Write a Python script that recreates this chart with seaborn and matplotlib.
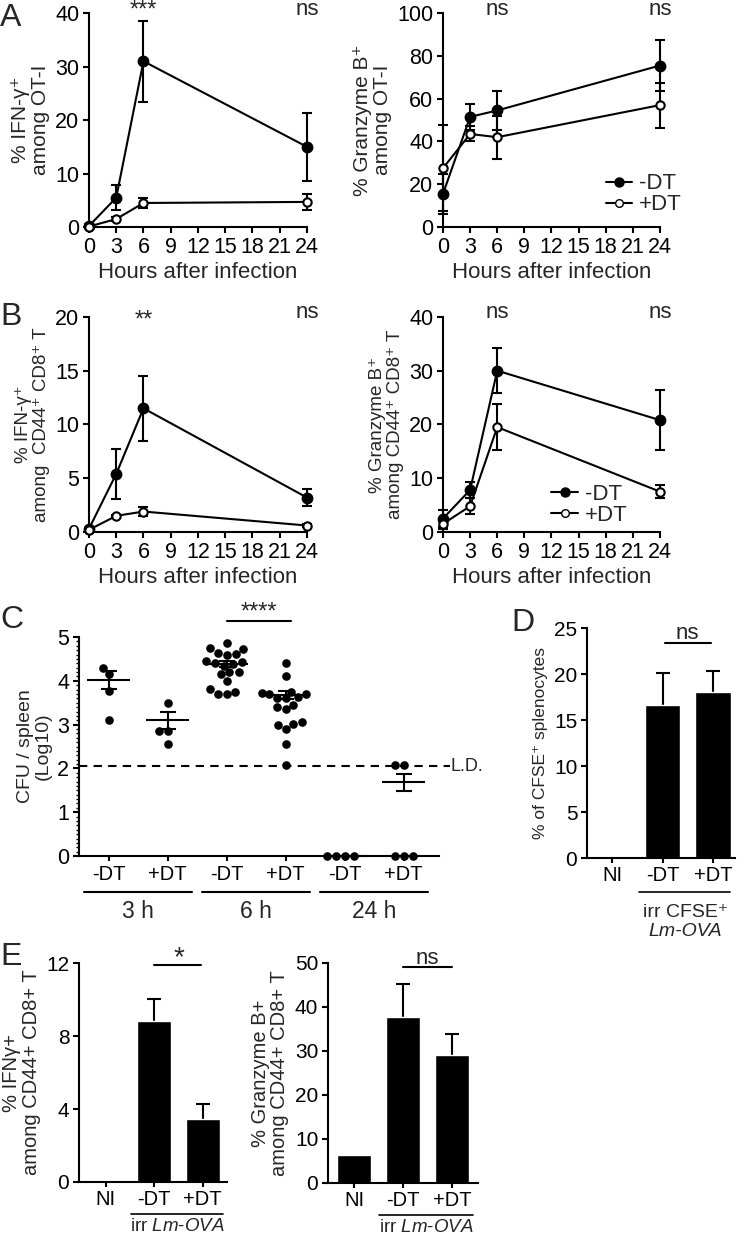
import numpy as np
import pandas as pd
import seaborn as sns
import matplotlib.pyplot as plt
from matplotlib.lines import Line2D
from matplotlib.ticker import MultipleLocator
from matplotlib.transforms import blended_transform_factory

sns.set_style("ticks")
plt.rcParams['font.family'] = ['Liberation Sans', 'DejaVu Sans']
plt.rcParams['mathtext.fontset'] = 'custom'
plt.rcParams['mathtext.rm'] = 'Liberation Sans'
plt.rcParams['mathtext.it'] = 'Liberation Sans:italic'
plt.rcParams['axes.linewidth'] = 1.5
plt.rcParams['xtick.major.width'] = 1.5
plt.rcParams['ytick.major.width'] = 1.5
plt.rcParams['xtick.major.size'] = 4.5
plt.rcParams['ytick.major.size'] = 4.5
plt.rcParams['xtick.major.pad'] = 2.5
plt.rcParams['ytick.major.pad'] = 2.5
plt.rcParams['xtick.labelsize'] = 15.5
plt.rcParams['ytick.labelsize'] = 15.5
plt.rcParams['axes.edgecolor'] = 'black'
plt.rcParams['xtick.color'] = 'black'
plt.rcParams['ytick.color'] = 'black'

# ---- data: time courses (A, B) ----
hours = [0, 3, 6, 24]

ifng_ot1_minus = [0.2, 5.5, 31.0, 15.0]
ifng_ot1_minus_err = [0.3, 2.3, 7.6, 6.3]
ifng_ot1_plus = [0.1, 1.5, 4.5, 4.7]
ifng_ot1_plus_err = [0.1, 0.3, 0.9, 1.5]

gzmb_ot1_minus = [15.5, 51.5, 54.5, 75.5]
gzmb_ot1_minus_err = [9.5, 6.0, 9.0, 12.0]
gzmb_ot1_plus = [27.5, 43.5, 42.0, 57.0]
gzmb_ot1_plus_err = [20.0, 3.5, 10.0, 10.5]

ifng_cd8_minus = [0.3, 5.4, 11.5, 3.2]
ifng_cd8_minus_err = [0.1, 2.3, 3.0, 0.8]
ifng_cd8_plus = [0.2, 1.5, 1.9, 0.6]
ifng_cd8_plus_err = [0.05, 0.1, 0.4, 0.1]

gzmb_cd8_minus = [2.5, 7.8, 30.0, 20.8]
gzmb_cd8_minus_err = [1.5, 1.5, 4.2, 5.6]
gzmb_cd8_plus = [1.5, 4.8, 19.5, 7.5]
gzmb_cd8_plus_err = [1.0, 1.5, 4.3, 1.2]

# ---- data: CFU (C) ----
cfu_conditions = ['3h -DT', '3h +DT', '6h -DT', '6h +DT', '24h -DT', '24h +DT']
cfu_3h_minus = [4.3, 4.15, 3.77, 3.1]
cfu_3h_plus = [3.5, 2.85, 2.85, 2.55]
cfu_6h_minus = [4.87, 4.75, 4.72, 4.63, 4.62, 4.6, 4.45, 4.42, 4.4, 4.38,
                4.35, 4.2, 4.2, 4.15, 4.0, 3.82, 3.75, 3.7, 3.7]
cfu_6h_plus = [4.4, 4.12, 3.75, 3.72, 3.7, 3.7, 3.62, 3.6, 3.6, 3.45,
               3.4, 3.35, 3.05, 3.02, 3.0, 2.9, 2.55, 2.07]
cfu_24h_minus = [0, 0, 0, 0]
cfu_24h_plus = [2.07, 2.07, 0, 0, 0]
cfu_mean = [4.02, 3.1, 4.38, 3.67, 0.0, 1.68]
cfu_sem = [0.2, 0.2, 0.07, 0.09, 0.0, 0.2]
cfu_ticklabels = ['-DT', '+DT', '-DT', '+DT', '-DT', '+DT']
cfu_timepoints = ['3 h', '6 h', '24 h']
detection_limit = 2.05

# ---- data: bars (D, E) ----
bar_groups = ['NI', '-DT', '+DT']
cfse_pct = [0.05, 16.6, 18.1]
cfse_err = [0.0, 3.5, 2.2]
ifng_bar = [0.05, 8.85, 3.45]
ifng_bar_err = [0.0, 1.2, 0.85]
gzmb_bar = [6.3, 37.8, 29.0]
gzmb_bar_err = [0.0, 7.5, 4.8]

fig = plt.figure(figsize=(7.44, 12.36), dpi=100)


def time_course(ax, minus, minus_err, plus, plus_err, ymax, ystep, ylabel, ylabel_size):
    for vals, errs, face in [(minus, minus_err, 'black'), (plus, plus_err, 'white')]:
        ax.errorbar(hours, vals, yerr=errs, fmt='none', ecolor='black',
                    elinewidth=1.5, capsize=3.6, capthick=1.5, clip_on=False, zorder=2)
        sns.lineplot(x=hours, y=vals, color='black', linewidth=1.5, marker='o',
                     markersize=7 if face == 'black' else 6, markerfacecolor=face,
                     markeredgecolor='black', markeredgewidth=1.5, ax=ax,
                     clip_on=False, zorder=3)
    ax.set_xlim(0, 24)
    ax.set_ylim(0, ymax)
    ax.set_xticks(range(0, 25, 3))
    ax.set_yticks(np.arange(0, ymax + 0.1, ystep))
    ax.set_xlabel('Hours after infection', fontsize=16, labelpad=3)
    ax.set_ylabel(ylabel, fontsize=ylabel_size, linespacing=1.05, labelpad=4)
    sns.despine(ax=ax)


def sig(ax, x, label, y=0.993, size=16):
    # baseline given in axes fraction, just under the top of the axes
    tr = blended_transform_factory(ax.transData, ax.transAxes)
    ax.text(x, y, label, transform=tr, ha='center', va='baseline', fontsize=size)


def legend(ax, anchor):
    handles = [Line2D([], [], color='black', lw=1.5, marker='o', markersize=6.5,
                      markerfacecolor='black', markeredgecolor='black'),
               Line2D([], [], color='black', lw=1.5, marker='o', markersize=5.5,
                      markerfacecolor='white', markeredgecolor='black')]
    ax.legend(handles, ['-DT', '+DT'], loc='lower right', bbox_to_anchor=anchor,
              frameon=False, fontsize=16, handlelength=1.2, handletextpad=0.3,
              labelspacing=0.0, borderaxespad=0, borderpad=0)


# A
axA1 = fig.add_axes([0.1196, 0.8163, 0.293, 0.1731])
time_course(axA1, ifng_ot1_minus, ifng_ot1_minus_err, ifng_ot1_plus, ifng_ot1_plus_err,
            40, 10, '% IFN-γ⁺\namong OT-I', 15)
sig(axA1, 6, '***', 0.983, 17)
sig(axA1, 24, 'ns')

axA2 = fig.add_axes([0.5954, 0.8163, 0.2917, 0.1731])
time_course(axA2, gzmb_ot1_minus, gzmb_ot1_minus_err, gzmb_ot1_plus, gzmb_ot1_plus_err,
            100, 20, '% Granzyme B⁺\namong OT-I', 15)
sig(axA2, 6, 'ns')
sig(axA2, 24, 'ns')
legend(axA2, (1.1, 0.055))

# B
axB1 = fig.add_axes([0.1196, 0.5696, 0.293, 0.174])
time_course(axB1, ifng_cd8_minus, ifng_cd8_minus_err, ifng_cd8_plus, ifng_cd8_plus_err,
            20, 5, '% IFN-γ⁺\namong  CD44⁺ CD8⁺ T', 13.5)
sig(axB1, 6, '**', 0.955, 17)
sig(axB1, 24, 'ns')

axB2 = fig.add_axes([0.5954, 0.5696, 0.2917, 0.174])
time_course(axB2, gzmb_cd8_minus, gzmb_cd8_minus_err, gzmb_cd8_plus, gzmb_cd8_plus_err,
            40, 10, '% Granzyme B⁺\namong CD44⁺ CD8⁺ T', 13.5)
sig(axB2, 6, 'ns')
sig(axB2, 24, 'ns')
legend(axB2, (0.85, 0.03))

# C
axC = fig.add_axes([0.1062, 0.3074, 0.4839, 0.1772])
cfu_values = [cfu_3h_minus, cfu_3h_plus, cfu_6h_minus, cfu_6h_plus, cfu_24h_minus, cfu_24h_plus]
cfu_df = pd.DataFrame({
    'condition': [c for c, v in zip(cfu_conditions, cfu_values) for _ in v],
    'log_cfu': [x for v in cfu_values for x in v],
})
sns.swarmplot(data=cfu_df, x='condition', y='log_cfu', order=cfu_conditions,
              color='black', size=6.2, ax=axC, clip_on=False, zorder=3)
pos = np.arange(len(cfu_conditions))
axC.hlines(cfu_mean, pos - 0.36, pos + 0.36, color='black', lw=1.5, zorder=4, clip_on=False)
axC.errorbar(pos, cfu_mean, yerr=cfu_sem, fmt='none', ecolor='black', elinewidth=1.5,
             capsize=6, capthick=1.5, zorder=4)
axC.axhline(detection_limit, xmin=0, xmax=1.03, color='black', lw=1.5, ls=(0, (4, 3)),
            clip_on=False)
axC.text(5.8, detection_limit, 'L.D.', ha='left', va='center', fontsize=13)
axC.set_xlim(-0.5, 5.6)
axC.set_ylim(0, 5)
axC.set_yticks(range(6))
axC.yaxis.set_minor_locator(MultipleLocator(0.1))
axC.tick_params(axis='y', which='minor', length=2.5, width=1)
axC.set_xticks(pos)
axC.set_xticklabels(cfu_ticklabels, fontsize=14.5)
axC.tick_params(axis='x', length=3.5, pad=3)
axC.set_xlabel('')
axC.set_ylabel('CFU / spleen\n(Log10)', fontsize=14, linespacing=1.05)
sns.despine(ax=axC)
for i, tp in enumerate(cfu_timepoints):
    c = 2 * i + 0.5
    axC.plot([c - 0.92, c + 0.92], [-0.165, -0.165], color='black', lw=1.5,
             transform=axC.get_xaxis_transform(), clip_on=False)
    axC.text(c, -0.255, tp, transform=axC.get_xaxis_transform(), ha='center',
             va='center', fontsize=16.5)
axC.plot([2.0, 3.1], [5.37, 5.37], color='black', lw=1.5, clip_on=False)
axC.text(2.55, 5.42, '****', ha='center', va='baseline', fontsize=17)


def bar_panel(ax, vals, errs, ymax, ystep, ylabel, xlim, ylabel_size):
    sns.barplot(x=bar_groups, y=vals, order=bar_groups, color='black', saturation=1,
                width=0.7, errorbar=None, ax=ax, zorder=2)
    idx = [i for i, e in enumerate(errs) if e > 0]
    tops = [vals[i] for i in idx]
    eb = ax.errorbar(idx, tops, yerr=[[0] * len(idx), [errs[i] for i in idx]],
                     fmt='none', ecolor='black', elinewidth=1.5, capsize=5, capthick=1.5,
                     zorder=1)
    # only the upper cap is shown, as in the reference
    for cap in eb[1]:
        if np.allclose(cap.get_ydata(), tops):
            cap.set_visible(False)
    ax.set_xlim(*xlim)
    ax.set_ylim(0, ymax)
    ax.set_yticks(np.arange(0, ymax + 0.1, ystep))
    ax.set_ylabel(ylabel, fontsize=ylabel_size, linespacing=1.05)
    ax.tick_params(axis='x', labelsize=14.5, length=3.5)
    ax.tick_params(axis='y', labelsize=15)
    sns.despine(ax=ax)


# D
axD = fig.add_axes([0.789, 0.3058, 0.199, 0.186])
bar_panel(axD, cfse_pct, cfse_err, 25, 5, '% of CFSE⁺ splenocytes', (-0.5, 2.44), 12.5)
axD.plot([1.05, 1.96], [23.4, 23.4], color='black', lw=1.5, clip_on=False)
axD.text(1.5, 23.8, 'ns', ha='center', va='baseline', fontsize=16)
axD.plot([0.53, 2.34], [-0.148, -0.148], color='black', lw=1.2,
         transform=axD.get_xaxis_transform(), clip_on=False)
axD.text(1.45, -0.235, 'irr CFSE⁺', transform=axD.get_xaxis_transform(),
         ha='center', va='center', fontsize=14)
axD.text(1.45, -0.32, 'Lm-OVA', transform=axD.get_xaxis_transform(),
         ha='center', va='center', fontsize=14, style='italic')

# E
axE1 = fig.add_axes([0.1062, 0.0437, 0.199, 0.177])
bar_panel(axE1, ifng_bar, ifng_bar_err, 12, 4, '% IFNγ+\namong CD44+ CD8+ T', (-0.55, 2.5), 14.5)
axE1.plot([1.0, 1.96], [11.9, 11.9], color='black', lw=1.5, clip_on=False)
axE1.text(1.5, 11.9, '*', ha='center', va='baseline', fontsize=20)

axE2 = fig.add_axes([0.4409, 0.0429, 0.2016, 0.178])
bar_panel(axE2, gzmb_bar, gzmb_bar_err, 50, 10, '% Granzyme B+\namong CD44+ CD8+ T', (-0.53, 2.53), 14.5)
axE2.plot([1.0, 2.0], [49, 49], color='black', lw=1.5, clip_on=False)
axE2.text(1.5, 49.8, 'ns', ha='center', va='baseline', fontsize=16)

for ax in (axE1, axE2):
    ax.plot([0.52, 2.42], [-0.145, -0.145], color='black', lw=1.2,
            transform=ax.get_xaxis_transform(), clip_on=False)
    ax.text(1.47, -0.225, r'irr $Lm$-$OVA$', transform=ax.get_xaxis_transform(),
            ha='center', va='baseline', fontsize=13.5)

# panel letters
for letter, x, y in [('A', 0.0, 1 - 3 / 1236), ('B', 0.0, 1 - 302 / 1236),
                     ('C', 0.0, 1 - 605 / 1236), ('D', 0.688, 1 - 608 / 1236),
                     ('E', 0.0, 1 - 942 / 1236)]:
    fig.text(x, y, letter, fontsize=23, ha='left', va='top')

fig.savefig('out.png', dpi=100)
